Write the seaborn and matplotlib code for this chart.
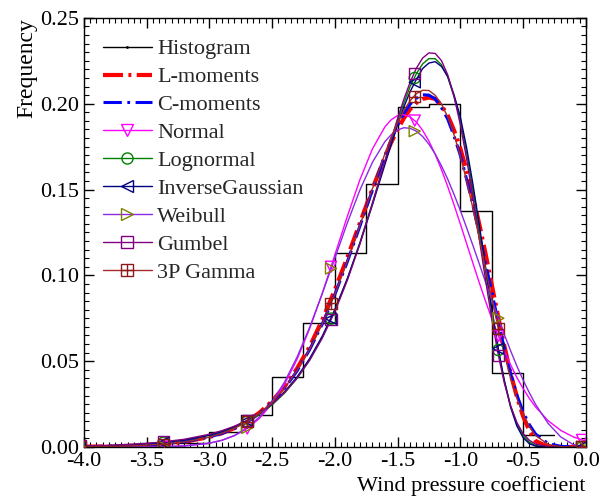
import matplotlib
matplotlib.use("Agg")
import matplotlib.pyplot as plt
import seaborn as sns
from matplotlib.lines import Line2D
from matplotlib.legend_handler import HandlerTuple
from matplotlib.ticker import MultipleLocator, FormatStrFormatter

# histogram (probability per 0.25 bin)
bin_edges = [-4.0, -3.75, -3.5, -3.25, -3.0, -2.75, -2.5, -2.25, -2.0,
             -1.75, -1.5, -1.25, -1.0, -0.75, -0.5, -0.25]
bin_heights = [0.0006, 0.0006, 0.0023, 0.0023, 0.0087, 0.0184, 0.0408, 0.0723,
               0.1130, 0.1530, 0.1980, 0.2000, 0.1375, 0.0431, 0.0070]

# fitted curves
x_grid = [-4.0, -3.8, -3.6, -3.4, -3.2, -3.0, -2.9, -2.8, -2.7, -2.6, -2.5, -2.4,
          -2.3, -2.2, -2.1, -2.0, -1.9, -1.8, -1.7, -1.6,
          -1.55, -1.5, -1.45, -1.4, -1.35, -1.3, -1.25, -1.2, -1.15, -1.1, -1.05, -1.0,
          -0.95, -0.9, -0.85, -0.8, -0.75, -0.7, -0.65, -0.6, -0.55, -0.5, -0.45, -0.4,
          -0.3, -0.2, -0.1, 0.0]
l_moments = [0.0002, 0.0003, 0.0007, 0.0015, 0.0030, 0.0058, 0.0080, 0.0110, 0.0149,
             0.0200, 0.0267, 0.0352, 0.0458, 0.0585, 0.0740, 0.0915, 0.1105, 0.1305,
             0.1505, 0.1690,
             0.1775, 0.1850, 0.1915, 0.1968, 0.2005, 0.2028, 0.2036, 0.2028, 0.1990,
             0.1932, 0.1845, 0.1740, 0.1610, 0.1465, 0.1302, 0.1130, 0.0948, 0.0765,
             0.0592, 0.0430, 0.0295, 0.0180, 0.0095, 0.0035,
             0.0, 0.0, 0.0, 0.0]
c_moments = [0.0002, 0.0004, 0.0008, 0.0016, 0.0031, 0.0058, 0.0079, 0.0108, 0.0146,
             0.0196, 0.0260, 0.0342, 0.0444, 0.0568, 0.0716, 0.0888, 0.1080, 0.1287,
             0.1498, 0.1700,
             0.1792, 0.1873, 0.1942, 0.1997, 0.2032, 0.2052, 0.2050, 0.2028, 0.1977,
             0.1910, 0.1812, 0.1700, 0.1560, 0.1410, 0.1245, 0.1075, 0.0905, 0.0735,
             0.0578, 0.0430, 0.0305, 0.0205, 0.0130, 0.0075,
             0.0020, 0.0004, 0.0, 0.0]
normal = [0.0, 0.0, 0.00003, 0.00016, 0.00064, 0.0022, 0.0039, 0.0066, 0.0107,
          0.0167, 0.0252, 0.0366, 0.0512, 0.0690, 0.0895, 0.1118, 0.1344, 0.1557,
          0.1737, 0.1866,
          0.1907, 0.1931, 0.1936, 0.1923, 0.1893, 0.1845, 0.1782, 0.1705, 0.1616,
          0.1517, 0.1411, 0.1300, 0.1186, 0.1072, 0.0960, 0.0852, 0.0749, 0.0652,
          0.0562, 0.0480, 0.0406, 0.0341, 0.0283, 0.0233,
          0.0153, 0.0097, 0.0059, 0.0035]
lognormal = [0.0005, 0.0008, 0.0014, 0.0024, 0.0040, 0.0068, 0.0088, 0.0114, 0.0147,
             0.0190, 0.0245, 0.0314, 0.0400, 0.0507, 0.0638, 0.0795, 0.0980, 0.1191,
             0.1423, 0.1667,
             0.1788, 0.1904, 0.2002, 0.2100, 0.2175, 0.2232, 0.2263, 0.2262, 0.2227,
             0.2155, 0.2041, 0.1900, 0.1714, 0.1499, 0.1265, 0.1025, 0.0790, 0.0575,
             0.0390, 0.0243, 0.0136, 0.0067, 0.0028, 0.0009,
             0.0, 0.0, 0.0, 0.0]
inv_gauss = [0.0004, 0.0008, 0.0013, 0.0023, 0.0040, 0.0069, 0.0090, 0.0117, 0.0152,
             0.0196, 0.0252, 0.0322, 0.0409, 0.0516, 0.0646, 0.0800, 0.0981, 0.1186,
             0.1411, 0.1647,
             0.1764, 0.1877, 0.1980, 0.2070, 0.2142, 0.2205, 0.2237, 0.2245, 0.2217,
             0.2158, 0.2052, 0.1924, 0.1745, 0.1534, 0.1300, 0.1054, 0.0811, 0.0584,
             0.0388, 0.0233, 0.0123, 0.0055, 0.0019, 0.0005,
             0.0, 0.0, 0.0, 0.0]
weibull = [0.0, 0.0, 0.00002, 0.0001, 0.0006, 0.0022, 0.0039, 0.0067, 0.0111,
           0.0175, 0.0263, 0.0379, 0.0525, 0.0698, 0.0893, 0.1099, 0.1306, 0.1497,
           0.1659, 0.1780,
           0.1820, 0.1847, 0.1860, 0.1857, 0.1840, 0.1809, 0.1764, 0.1707, 0.1638,
           0.1560, 0.1472, 0.1378, 0.1278, 0.1175, 0.1070, 0.0963, 0.0859, 0.0756,
           0.0657, 0.0562, 0.0473, 0.0391, 0.0316, 0.0248,
           0.0137, 0.0059, 0.0014, 0.0]
gumbel = [0.0006, 0.0010, 0.0017, 0.0027, 0.0045, 0.0074, 0.0095, 0.0121, 0.0155,
          0.0197, 0.0251, 0.0318, 0.0402, 0.0506, 0.0634, 0.0788, 0.0971, 0.1182,
          0.1418, 0.1667,
          0.1792, 0.1913, 0.2025, 0.2125, 0.2207, 0.2266, 0.2296, 0.2293, 0.2251,
          0.2168, 0.2043, 0.1879, 0.1680, 0.1456, 0.1218, 0.0978, 0.0750, 0.0546,
          0.0375, 0.0241, 0.0144, 0.0078, 0.0039, 0.0017,
          0.0002, 0.0, 0.0, 0.0]
gamma3p = [0.0002, 0.0003, 0.0007, 0.0015, 0.0029, 0.0057, 0.0079, 0.0108, 0.0146,
           0.0197, 0.0261, 0.0344, 0.0446, 0.0570, 0.0718, 0.0890, 0.1083, 0.1291,
           0.1505, 0.1710,
           0.1805, 0.1888, 0.1961, 0.2017, 0.2059, 0.2078, 0.2077, 0.2049, 0.1999,
           0.1922, 0.1819, 0.1697, 0.1551, 0.1392, 0.1220, 0.1044, 0.0868, 0.0699,
           0.0542, 0.0404, 0.0285, 0.0190, 0.0118, 0.0067,
           0.0015, 0.0002, 0.0, 0.0]

# marker positions on each curve
marker_x = [-4.03, -3.363, -2.697, -2.03, -1.363, -0.697, -0.03]
normal_mk = [0.0, 0.0002, 0.0108, 0.1050, 0.1902, 0.0646, 0.0041]
lognormal_mk = [0.0005, 0.0026, 0.0148, 0.0748, 0.2150, 0.0565, 0.0]
inv_gauss_mk = [0.0004, 0.0025, 0.0153, 0.0747, 0.2125, 0.0573, 0.0]
weibull_mk = [0.0, 0.0002, 0.0112, 0.1040, 0.1840, 0.0750, 0.0001]
gumbel_mk = [0.0006, 0.0030, 0.0156, 0.0742, 0.2177, 0.0535, 0.0]
gamma3p_mk = [0.0001, 0.0016, 0.0148, 0.0838, 0.2040, 0.0690, 0.0]

sns.set_theme(style="ticks")
plt.rcParams["font.family"] = ["Liberation Serif", "DejaVu Serif"]
plt.rcParams["axes.unicode_minus"] = False
plt.rcParams["font.size"] = 16

fig, ax = plt.subplots(figsize=(6.16, 4.97), dpi=100)
fig.subplots_adjust(left=0.136, right=0.951, bottom=0.1006, top=0.964)

centers = [(bin_edges[i] + bin_edges[i + 1]) / 2 for i in range(len(bin_heights))]
sns.histplot(x=centers, weights=bin_heights, bins=bin_edges, element="step",
             fill=False, color="black", linewidth=1.0, ax=ax)

red_dash = (0, (4.8, 1.3, 0.7, 1.3))
blue_dash = (0, (6.0, 1.8, 0.9, 1.8))
sns.lineplot(x=x_grid, y=l_moments, color="#FF0000", linewidth=3.0,
             linestyle=red_dash, sort=False, estimator=None, ax=ax)
sns.lineplot(x=x_grid, y=c_moments, color="#0000FF", linewidth=2.2,
             linestyle=blue_dash, sort=False, estimator=None, ax=ax)

curves = [
    ("Normal", normal, normal_mk, "#FF00FF", "#FF00FF", "v"),
    ("Lognormal", lognormal, lognormal_mk, "#008000", "#008000", "o"),
    ("InverseGaussian", inv_gauss, inv_gauss_mk, "#000080", "#000080", "<"),
    ("Weibull", weibull, weibull_mk, "#8A2BE2", "#808000", ">"),
    ("Gumbel", gumbel, gumbel_mk, "#800080", "#800080", "s"),
    ("3P Gamma", gamma3p, gamma3p_mk, "#A52A2A", "#8B1A1A", "s"),
]
msize = 8
for name, yv, mk, lc, mc, m in curves:
    sns.lineplot(x=x_grid, y=yv, color=lc, linewidth=1.0, sort=False,
                 estimator=None, ax=ax)
    sns.scatterplot(x=marker_x, y=mk, marker=m, s=msize ** 2, facecolor="none",
                    edgecolor=mc, linewidth=1.0, ax=ax, zorder=3)
    if name == "3P Gamma":
        sns.scatterplot(x=marker_x, y=mk, marker="+", s=msize ** 2, color=mc,
                        linewidth=1.0, ax=ax, zorder=3)

ax.set_xlim(-4.0, 0.0)
ax.set_ylim(0.0, 0.25)
ax.xaxis.set_major_locator(MultipleLocator(0.5))
ax.xaxis.set_minor_locator(MultipleLocator(0.05))
ax.yaxis.set_major_locator(MultipleLocator(0.05))
ax.yaxis.set_minor_locator(MultipleLocator(0.005))
ax.xaxis.set_major_formatter(FormatStrFormatter("%.1f"))
ax.yaxis.set_major_formatter(FormatStrFormatter("%.2f"))
ax.tick_params(which="both", direction="in", top=True, right=True, color="black",
               labelsize=16, labelcolor="black")
ax.tick_params(which="major", length=7, width=1)
ax.tick_params(which="minor", length=3.5, width=0.8)
for sp in ax.spines.values():
    sp.set_color("black")
    sp.set_linewidth(1.0)

ax.set_xlabel("Wind pressure coefficient", loc="right", fontsize=16, color="black")
ax.set_ylabel("Frequency", loc="top", fontsize=17, color="black", labelpad=2)

handles = [
    Line2D([], [], color="black", linewidth=1.0, marker=".", markersize=2),
    Line2D([], [], color="#FF0000", linewidth=3.0, linestyle=red_dash),
    Line2D([], [], color="#0000FF", linewidth=2.2, linestyle=blue_dash),
]
for name, yv, mk, lc, mc, m in curves:
    line = Line2D([], [], color=lc, linewidth=1.0)
    mark = Line2D([], [], linestyle="none", marker=m, markersize=msize,
                  markerfacecolor="none", markeredgecolor=mc, markeredgewidth=1.0)
    if name == "3P Gamma":
        plus = Line2D([], [], linestyle="none", marker="+", markersize=msize,
                      markeredgecolor=mc, markeredgewidth=1.0)
        handles.append((line, mark, plus))
    else:
        handles.append((line, mark))
labels = ["Histogram", "L-moments", "C-moments"] + [c[0] for c in curves]
ax.legend(handles, labels, loc="upper left", bbox_to_anchor=(0.038, 0.951),
          frameon=False, borderpad=0, borderaxespad=0, handlelength=2.2,
          handletextpad=0.25, labelspacing=0.33, fontsize=16,
          handler_map={tuple: HandlerTuple(ndivide=1, pad=0)})

fig.savefig("out.png", dpi=100)
